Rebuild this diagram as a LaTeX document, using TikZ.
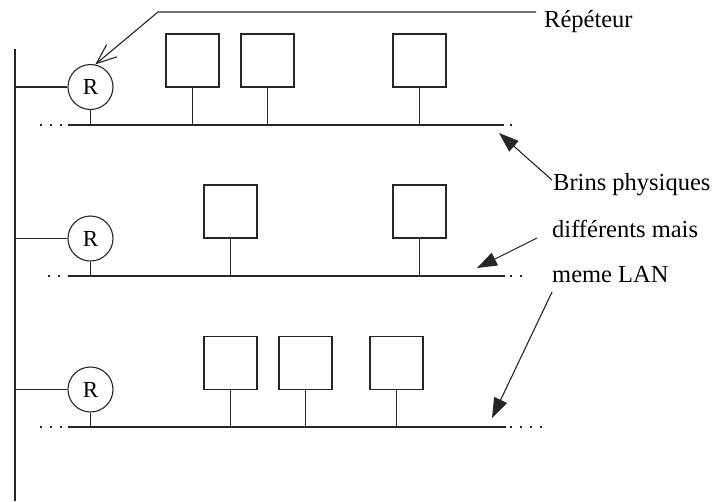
\documentclass[tikz,border=0pt]{standalone}
\usepackage{fontspec}
\setmainfont{Liberation Serif}
\usetikzlibrary{arrows.meta}
\begin{document}
\begin{tikzpicture}[x=1pt,y=-1pt,
  ln/.style={line width=1.1pt, draw=black!85},
  rep/.style={circle, draw=black!85, line width=1.1pt, minimum size=45pt, inner sep=0pt, font=\fontsize{23}{23}\selectfont},
  host/.style={rectangle, draw=black!85, line width=1.1pt, minimum size=53pt, inner sep=0pt},
  lbl/.style={anchor=base west, inner sep=0pt, font=\fontsize{24.5}{24.5}\selectfont},
  dots/.style={line width=1.1pt, draw=black!85, dash pattern=on 2pt off 8pt},
  fat/.style={ln, -{Triangle[length=20pt,width=14pt]}},
]
\useasboundingbox (0,0) rectangle (717,501);

% backbone
\coordinate (bbtop) at (15,49);
\coordinate (bbbot) at (15,501);
\draw[line width=1.4pt, draw=black!85] (bbtop) -- (bbbot);

% repeaters
\node[rep] (R1) at (90.5,87) {R};
\node[rep] (R2) at (90.5,238.5) {R};
\node[rep] (R3) at (90.5,389.5) {R};

% buses
\coordinate (b1l) at (68,125);  \coordinate (b1r) at (504,125);
\coordinate (b2l) at (68,276);  \coordinate (b2r) at (505,276);
\coordinate (b3l) at (68,427);  \coordinate (b3r) at (506,427);
\draw[ln] (b1l) -- (b1r);
\draw[ln] (b2l) -- (b2r);
\draw[ln] (b3l) -- (b3r);

% dotted continuations
\coordinate (d1l) at (40,125);  \coordinate (d1r) at (510,125); \coordinate (e1r) at (514,125);
\coordinate (d2l) at (48,276);  \coordinate (d2r) at (510,276); \coordinate (e2r) at (522,276);
\coordinate (d3l) at (40,427);  \coordinate (d3r) at (510,427); \coordinate (e3r) at (542,427);
\draw[dots] (d1l) -- (b1l);  \draw[dots] (d1r) -- (e1r);
\draw[dots] (d2l) -- (b2l);  \draw[dots] (d2r) -- (e2r);
\draw[dots] (d3l) -- (b3l);  \draw[dots] (d3r) -- (e3r);

% repeater links
\foreach \r/\b in {R1/b1l,R2/b2l,R3/b3l}{
  \draw[ln] (\r.west) -- (\r.west -| bbtop);
  \draw[ln] (\r.south) -- (\r.south |- \b);
}

% hosts row 1
\node[host] (h11) at (192.5,60.5) {};
\node[host] (h12) at (267.5,60.5) {};
\node[host] (h13) at (419.5,60.5) {};
% hosts row 2
\node[host] (h21) at (230.5,211.5) {};
\node[host] (h22) at (419.5,211.5) {};
% hosts row 3
\node[host] (h31) at (230.5,363) {};
\node[host] (h32) at (305.5,363) {};
\node[host] (h33) at (396.5,363) {};

\foreach \h in {h11,h12,h13}{\draw[ln] (\h.south) -- (\h.south |- b1l);}
\foreach \h in {h21,h22}{\draw[ln] (\h.south) -- (\h.south |- b2l);}
\foreach \h in {h31,h32,h33}{\draw[ln] (\h.south) -- (\h.south |- b3l);}

% labels
\node[lbl] (trep) at (544,27) {Répéteur};
\node[lbl] (t1) at (553,190) {Brins physiques};
\node[lbl] (t2) at (552,237) {différents mais};
\node[lbl] (t3) at (552,282) {meme LAN};

% repeater arrow
\coordinate (rs) at (536,12);
\coordinate (rk) at (158,12);
\draw[ln, -{Straight Barb[length=20pt,width=16pt]}] (rs) -- (rk) -- (R1.78);

% segment arrows
\coordinate (a1s) at (552,180); \coordinate (a1e) at (499,133);
\coordinate (a2s) at (537,238); \coordinate (a2e) at (477,268);
\coordinate (a3s) at (552,292); \coordinate (a3e) at (492,418);
\draw[fat] (a1s) -- (a1e);
\draw[fat] (a2s) -- (a2e);
\draw[fat] (a3s) -- (a3e);
\end{tikzpicture}
\end{document}
